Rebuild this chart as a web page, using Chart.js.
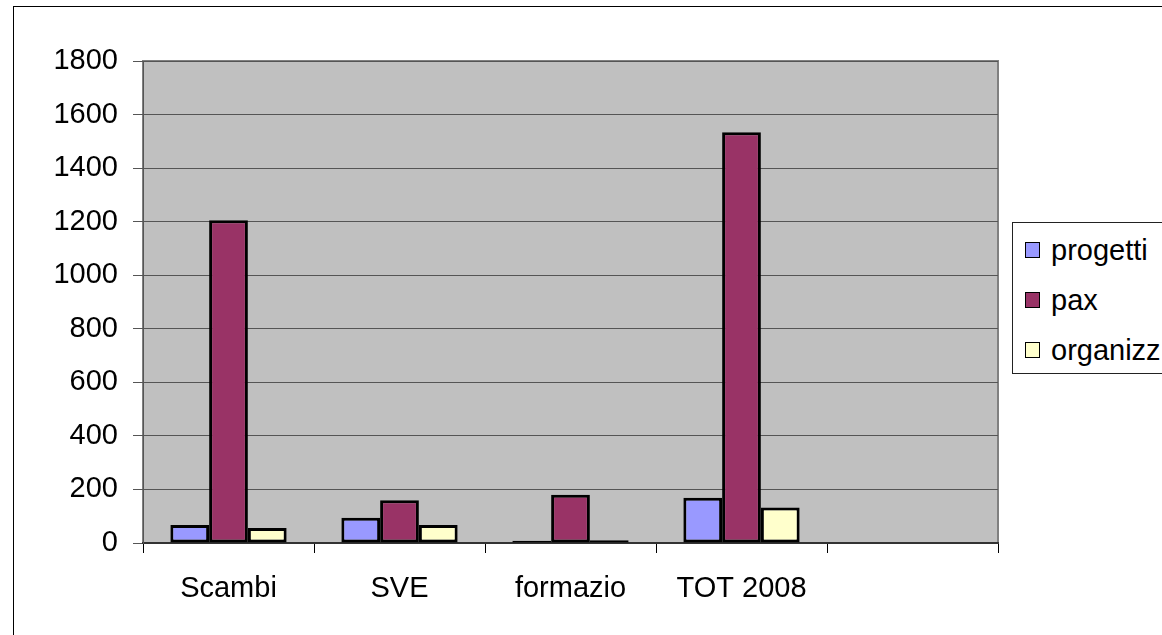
<!DOCTYPE html>
<html>
<head>
<meta charset="utf-8">
<script src="https://cdn.jsdelivr.net/npm/chart.js@4.4.0/dist/chart.umd.min.js"></script>
<style>
    body { margin: 0; width: 1162px; height: 635px; overflow: hidden; background: #fff; font-family: 'Liberation Sans', Arial, sans-serif; }
    #moldura { position: absolute; left: 13px; top: 6px; width: 1300px; height: 800px; border: 1.5px solid #000; }
    #caixa_grafico { position: absolute; left: 0; top: 0; width: 1162px; height: 635px; }
    #legenda { position: absolute; left: 1012px; top: 222px; width: 220px; height: 150px; border: 1px solid #222; background: #fff; }
    .item-legenda { position: absolute; left: 12px; height: 34px; display: flex; align-items: center; font-size: 29px; color: #000; white-space: nowrap; }
    .quadrado { width: 13px; height: 14px; border: 1.5px solid #000; margin-right: 11px; }
</style>
</head>
<body>
<div id="moldura"></div>
<div id="caixa_grafico"><canvas id="grafico"></canvas></div>
<div id="legenda"></div>

<script>
// DADOS DO GRAFICO
const categorias = ["Scambi", "SVE", "formazio", "TOT 2008", ""];
const nomesSeries = ["progetti", "pax", "organizz"];
const dadosProgetti = [67, 94, 8, 169, null];
const dadosPax = [1205, 160, 180, 1534, null];
const dadosOrganizz = [56, 67, 10, 133, null];
const coresSeries = ['#9999FF', '#993366', '#FFFFCC'];

// legenda em html (cortada na borda como no original)
var divLegenda = document.getElementById("legenda");
var topos = [10, 60, 110];
nomesSeries.forEach((nome, i) => {
    var item = document.createElement("div");
    item.classList.add("item-legenda");
    item.style.top = topos[i] + "px";
    var quadrado = document.createElement("div");
    quadrado.classList.add("quadrado");
    quadrado.style.background = coresSeries[i];
    var texto = document.createElement("span");
    texto.innerHTML = nome;
    item.appendChild(quadrado);
    item.appendChild(texto);
    divLegenda.appendChild(item);
});

// fundo cinza da area do grafico
const fundoPlot = {
    id: 'fundoPlot',
    beforeDraw(chart) {
        const ctx = chart.ctx;
        const a = chart.chartArea;
        ctx.save();
        ctx.fillStyle = '#C0C0C0';
        ctx.fillRect(a.left, a.top, a.right - a.left, a.bottom - a.top);
        ctx.strokeStyle = '#808080';
        ctx.lineWidth = 2;
        ctx.strokeRect(a.left, a.top, a.right - a.left, a.bottom - a.top);
        ctx.restore();
    }
};

Chart.defaults.font.family = "'Liberation Sans', Arial, sans-serif";
Chart.defaults.font.size = 29;
Chart.defaults.color = '#000';

const dadosBarras = {
    labels: categorias,
    datasets: [
        { label: nomesSeries[0], data: dadosProgetti, backgroundColor: coresSeries[0] },
        { label: nomesSeries[1], data: dadosPax, backgroundColor: coresSeries[1] },
        { label: nomesSeries[2], data: dadosOrganizz, backgroundColor: coresSeries[2] }
    ].map(ds => Object.assign(ds, {
        borderColor: '#000',
        borderWidth: 3,
        borderSkipped: false,
        barPercentage: 1,
        categoryPercentage: 0.68
    }))
};

const configBarras = {
    type: 'bar',
    data: dadosBarras,
    options: {
        responsive: true,
        maintainAspectRatio: false,
        animation: { duration: 0 },
        layout: { padding: { top: 61, right: 164, left: 0, bottom: 0 } },
        plugins: {
            legend: { display: false },
            tooltip: { enabled: false }
        },
        scales: {
            x: {
                grid: { drawOnChartArea: false, drawTicks: true, tickLength: 10, color: '#000', offset: true },
                border: { display: true, color: '#333', width: 2 },
                ticks: { padding: 19, maxRotation: 0, autoSkip: false },
                afterFit(scale) { scale.height = 92; }
            },
            y: {
                min: 0,
                max: 1800,
                ticks: { stepSize: 200, padding: 15, callback: (valor) => String(valor) },
                grid: { color: '#555', lineWidth: 1, tickLength: 10 },
                border: { display: true, color: '#555', width: 1 },
                afterFit(scale) { scale.width = 143; }
            }
        }
    },
    plugins: [fundoPlot]
};

new Chart(document.getElementById("grafico"), configBarras);
</script>
</body>
</html>
